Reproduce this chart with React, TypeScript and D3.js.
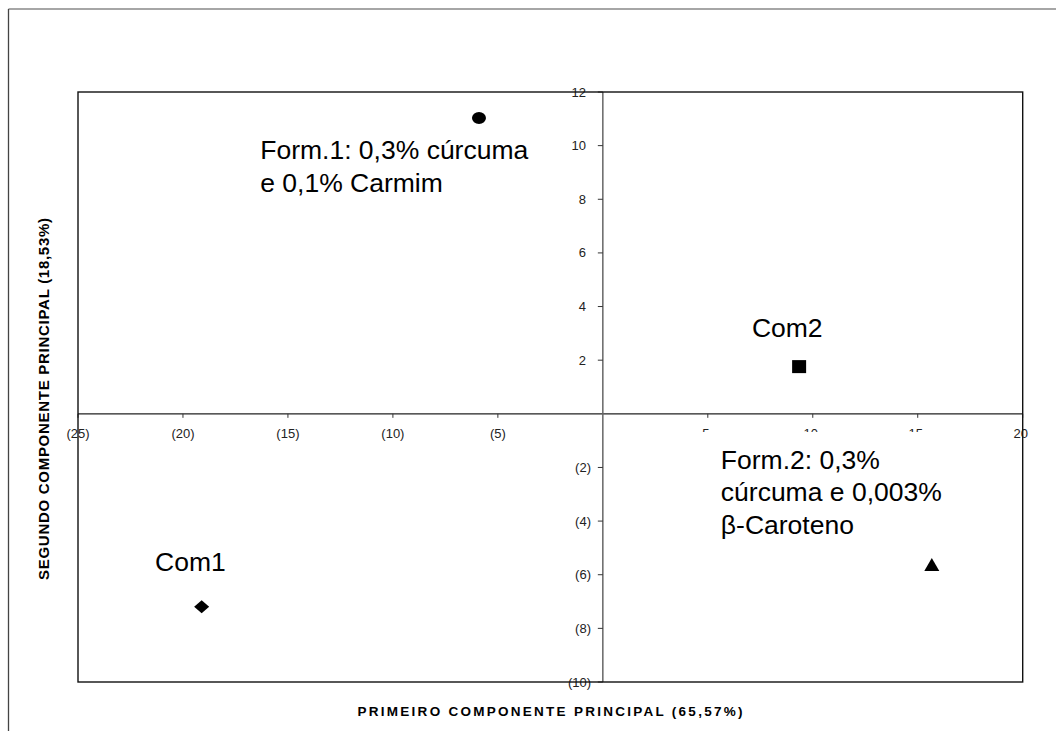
import React from "react";
import * as d3 from "d3";

const W = 1056;
const H = 731;

const pointNames = ["Form1", "Com2", "Form2", "Com1"];
const pc1Values = [-5.9, 9.35, 15.67, -19.11];
const pc2Values = [11.03, 1.76, -5.64, -7.19];
const markerShapes = ["circle", "square", "triangle", "diamond"];

const xTicks = [-25, -20, -15, -10, -5, 5, 10, 15, 20];
const yTicks = [12, 10, 8, 6, 4, 2, -2, -4, -6, -8, -10];

const xTitle = "PRIMEIRO COMPONENTE PRINCIPAL (65,57%)";
const yTitle = "SEGUNDO COMPONENTE PRINCIPAL (18,53%)";

const labelLines: { text: string[]; x: number; y: number }[] = [
  { text: ["Form.1: 0,3% cúrcuma", "e 0,1% Carmim"], x: -16.32, y: 9.5 },
  { text: ["Com2"], x: 7.1, y: 2.85 },
  { text: ["Form.2: 0,3%", "cúrcuma e 0,003%"], x: 5.62, y: -2.05 },
  { text: ["β-Caroteno"], x: 5.62, y: -4.47 },
  { text: ["Com1"], x: -21.33, y: -5.85 },
];

const fmt = (v: number) => (v < 0 ? `(${Math.abs(v)})` : `${v}`);

export default function App() {
  const left = 78, right = 1022.7, top = 92, bottom = 682;
  const x = d3.scaleLinear().domain([-25, 20]).range([left, right]);
  const y = d3.scaleLinear().domain([-10, 12]).range([bottom, top]);
  const x0 = x(0), y0 = y(0);
  const font = "'Liberation Sans', Arial, sans-serif";

  const marker = (shape: string, cx: number, cy: number, i: number) => {
    if (shape === "circle") return <ellipse key={i} cx={cx} cy={cy} rx={7} ry={6} fill="#000" />;
    if (shape === "square") return <rect key={i} x={cx - 7} y={cy - 6.5} width={14} height={13} fill="#000" />;
    if (shape === "triangle")
      return <path key={i} d={`M${cx},${cy - 7} L${cx + 7.5},${cy + 6} L${cx - 7.5},${cy + 6} Z`} fill="#000" />;
    return <path key={i} d={`M${cx},${cy - 6.5} L${cx + 7.5},${cy} L${cx},${cy + 6.5} L${cx - 7.5},${cy} Z`} fill="#000" />;
  };

  return (
    <svg width={W} height={H} style={{ position: "absolute", left: 0, top: 0, background: "#fff" }} fontFamily={font}>
      <rect x={0} y={0} width={W} height={H} fill="#fff" />
      {/* outer frame */}
      <line x1={8.5} y1={9} x2={W} y2={9} stroke="#888" strokeWidth={1.5} />
      <line x1={8.5} y1={9} x2={8.5} y2={H} stroke="#444" strokeWidth={1.3} />

      {/* axes */}
      <line x1={left} y1={y0} x2={right} y2={y0} stroke="#222" strokeWidth={1.2} />
      <line x1={x0} y1={top} x2={x0} y2={bottom} stroke="#666" strokeWidth={1.5} />

      {/* x ticks */}
      {xTicks.map((t) => (
        <g key={"xt" + t}>
          <line x1={x(t)} y1={y0} x2={x(t)} y2={y0 + 4} stroke="#333" strokeWidth={1} />
          <text x={x(t) - (t > 0 ? 2 : 0)} y={y0 + 24} fontSize={13} fill="#222" textAnchor="middle">
            {fmt(t)}
          </text>
        </g>
      ))}
      {/* y ticks */}
      {yTicks.map((t) => (
        <g key={"yt" + t}>
          <line x1={x0 - 5} y1={y(t)} x2={x0} y2={y(t)} stroke="#333" strokeWidth={1} />
          <text x={t > 0 ? 586 : 591} y={y(t) + 4.5} fontSize={13} fill="#222" textAnchor="end">
            {fmt(t)}
          </text>
        </g>
      ))}

      {/* white text box covering part of the x labels */}
      <rect x={650} y={432} width={352} height={115} fill="#fff" />

      {/* plot frame */}
      <rect x={left} y={top} width={right - left} height={bottom - top} fill="none" stroke="#111" strokeWidth={1.4} />

      {/* markers */}
      {pc1Values.map((v, i) => marker(markerShapes[i], x(v), y(pc2Values[i]), i))}

      {/* point labels */}
      {labelLines.map((l, i) => (
        <text key={"lab" + i} x={x(l.x)} y={y(l.y)} fontSize={26.5} fill="#000">
          {l.text.map((s, j) => (
            <tspan key={j} x={x(l.x)} dy={j === 0 ? 0 : 32.5}>
              {s}
            </tspan>
          ))}
        </text>
      ))}

      {/* axis titles */}
      <text x={550} y={716} fontSize={13.5} fontWeight="bold" fill="#000" textAnchor="middle" textLength={385} lengthAdjust="spacing">
        {xTitle}
      </text>
      <text
        transform={`translate(49,399) rotate(-90)`}
        fontSize={15}
        fontWeight="bold"
        fill="#000"
        textAnchor="middle"
        textLength={362}
        lengthAdjust="spacing"
      >
        {yTitle}
      </text>
    </svg>
  );
}
